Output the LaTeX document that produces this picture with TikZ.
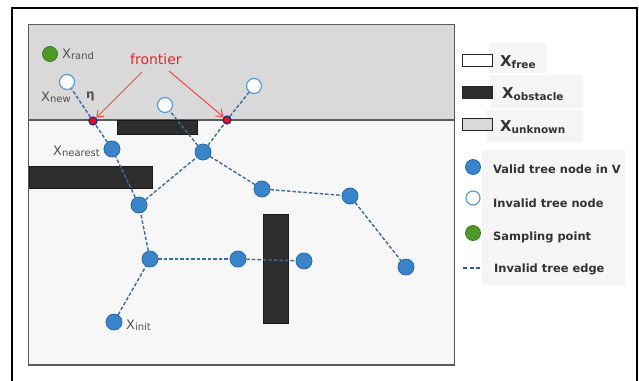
\documentclass[tikz,border=0pt]{standalone}
\usepackage{fontspec}
\setmainfont{DejaVu Sans}
\usetikzlibrary{arrows.meta}
\definecolor{unk}{HTML}{D9D9D9}
\definecolor{freec}{HTML}{F7F7F7}
\definecolor{obst}{HTML}{2E2E2E}
\definecolor{mapb}{HTML}{5A5A5A}
\definecolor{nodeblue}{HTML}{3A84CA}
\definecolor{nodeblueb}{HTML}{2A68A8}
\definecolor{edgeblue}{HTML}{3C6C9C}
\definecolor{invb}{HTML}{5B9BD5}
\definecolor{sampg}{HTML}{4E9A28}
\definecolor{sampgb}{HTML}{3C7A1E}
\definecolor{frontred}{HTML}{E0262C}
\definecolor{frontfill}{HTML}{E0102A}
\definecolor{frontb}{HTML}{222A70}
\definecolor{arrred}{HTML}{F04848}
\definecolor{labgray}{HTML}{505050}
\definecolor{legtxt}{HTML}{333333}
\definecolor{legbg}{HTML}{F5F5F5}
\definecolor{legdash}{HTML}{2C5AA8}
\newcommand\Xlab[1]{{\fontsize{13}{13}\selectfont X}\raisebox{-1.5bp}{\fontsize{10}{10}\selectfont #1}}
\newcommand\Xleg[1]{{\fontsize{15}{15}\selectfont\bfseries X}\raisebox{-2bp}{\fontsize{10.5}{10.5}\selectfont\bfseries #1}}
\begin{document}
\begin{tikzpicture}[x=1bp,y=-1bp,
  valid/.style={circle,fill=nodeblue,draw=nodeblueb,line width=0.8bp,minimum size=16bp,inner sep=0},
  invalid/.style={circle,fill=white,draw=invb,line width=1.2bp,minimum size=15bp,inner sep=0},
  frontpt/.style={circle,fill=frontfill,draw=frontb,line width=1.2bp,minimum size=8bp,inner sep=0},
  sample/.style={circle,fill=sampg,draw=sampgb,line width=0.8bp,minimum size=15bp,inner sep=0},
  tedge/.style={edgeblue,line width=1.4bp,dash pattern=on 3.5bp off 2bp},
  obstacle/.style={fill=obst,draw=black!90,line width=0.6bp},
  lab/.style={text=labgray,inner sep=0,anchor=base west},
  legtext/.style={text=legtxt,font=\bfseries\fontsize{11.5}{12}\selectfont,anchor=base west,inner sep=0},
  legbox/.style={fill=legbg,draw=none},
  redarrow/.style={arrred,line width=1bp,-{Straight Barb[length=6bp,width=9bp]}}
]
\useasboundingbox (0,0) rectangle (639,380);
% outer frame
\draw[black,line width=2bp] (12,382) -- (12,8) -- (637,8) -- (637,382);
% map
\fill[unk] (28.5,24.5) rectangle (454.5,120);
\fill[freec] (28.5,120) rectangle (454.5,365);
\draw[mapb,line width=1.5bp] (28.5,24.5) rectangle (454.5,365);
\draw[mapb,line width=1.5bp] (28.5,120) -- (454.5,120);
% obstacles
\draw[obstacle] (117,120.5) rectangle (197,134);
\draw[obstacle] (29,166) rectangle (152,188);
\draw[obstacle] (263,214) rectangle (288,323);
% nodes
\node[valid] (nearest) at (112,149) {};
\node[valid] (na) at (203,152) {};
\node[valid] (nb) at (139,205) {};
\node[valid] (nc) at (150,259) {};
\node[valid] (init) at (114,322) {};
\node[valid] (nd) at (262,189) {};
\node[valid] (ne) at (350,196) {};
\node[valid] (nf) at (406,267) {};
\node[valid] (ng) at (238,259) {};
\node[valid] (nh) at (304,261) {};
\node[invalid] (inv1) at (67,82) {};
\node[invalid] (inv2) at (165,105) {};
\node[invalid] (inv3) at (254,86) {};
\node[frontpt] (f1) at (93,121) {};
\node[frontpt] (f2) at (227,120) {};
\node[sample] (rand) at (50,54) {};
% edges
\draw[tedge] (init) -- (nc);
\draw[tedge] (nc) -- (nb);
\draw[tedge] (nb) -- (nearest);
\draw[tedge] (nearest) -- (f1);
\draw[tedge] (f1) -- (inv1);
\draw[tedge] (nb) -- (na);
\draw[tedge] (na) -- (inv2);
\draw[tedge] (na) -- (f2);
\draw[tedge] (f2) -- (inv3);
\draw[tedge] (na) -- (nd);
\draw[tedge] (nd) -- (ne);
\draw[tedge] (ne) -- (nf);
\draw[tedge] (nc) -- (ng);
\draw[tedge] (ng) -- (nh);
% labels
\node[lab] (lrand) at (62,58) {\Xlab{rand}};
\node[lab] (lnew) at (41,101) {\Xlab{new}};
\node[lab,font=\bfseries\fontsize{12}{12}\selectfont] (leta) at (86,98) {η};
\node[lab] (lnear) at (53,155) {\Xlab{nearest}};
\node[lab] (linit) at (126,329) {\Xlab{init}};
\node[text=frontred,font=\fontsize{14}{14}\selectfont,anchor=base west,inner sep=0] (front) at (130,64) {frontier};
\coordinate (a1) at (142,72);
\coordinate (a2) at (169,71);
\draw[redarrow] (a1) -- (f1);
\draw[redarrow] (a2) -- (f2);
% legend backgrounds
\fill[legbg] (489,43) rectangle (547,73);
\fill[legbg] (490,75) rectangle (583,108);
\fill[legbg] (486,110) rectangle (583,142);
\fill[legbg] (482,150) rectangle (625,285);
% legend
\node[draw=black!85,fill=white,line width=1bp,minimum width=30bp,minimum height=12bp,inner sep=0] (kfree) at (477,60) {};
\node[lab,text=legtxt] (tfree) at (500,66) {\Xleg{free}};
\node[draw=black!85,fill=obst,line width=1bp,minimum width=30bp,minimum height=12bp,inner sep=0] (kobs) at (477,92.5) {};
\node[lab,text=legtxt] (tobs) at (502,98) {\Xleg{obstacle}};
\node[draw=black!85,fill=unk,line width=1bp,minimum width=30bp,minimum height=12bp,inner sep=0] (kunk) at (477,124.5) {};
\node[lab,text=legtxt] (tunk) at (500,131) {\Xleg{unknown}};
\node[valid,minimum size=15bp] (kvalid) at (473,167) {};
\node[legtext] (tvalid) at (493,173) {Valid tree node in V};
\node[invalid,minimum size=14bp] (kinv) at (473,198) {};
\node[legtext] (tinv) at (493,207) {Invalid tree node};
\node[sample,minimum size=15bp] (ksamp) at (473,233) {};
\node[legtext] (tsamp) at (493,240) {Sampling point};
\coordinate (d1) at (463,268);
\coordinate (d2) at (481,268);
\draw[legdash,line width=1.5bp,dash pattern=on 4bp off 2.5bp] (d1) -- (d2);
\node[legtext] (tedge) at (494,272) {Invalid tree edge};
\end{tikzpicture}
\end{document}
